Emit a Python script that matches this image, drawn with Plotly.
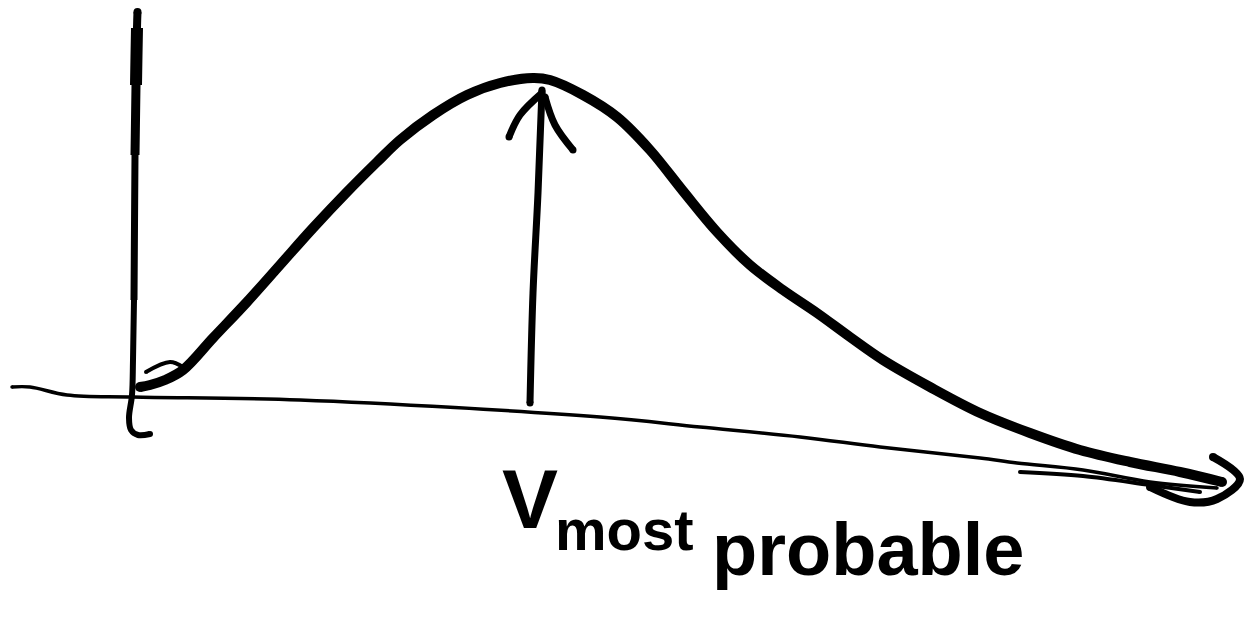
import plotly.graph_objects as go

# Sketch coordinates (x to the right, y downward, canvas units)
curve_x = [140, 150, 165, 183, 213, 247, 280, 313, 347, 377, 400, 433, 467, 500, 533, 550, 583, 617,
           650, 683, 717, 750, 783, 817, 850, 883, 930, 980, 1030, 1080, 1130, 1180, 1222]
curve_y = [387, 385, 380, 370, 338, 302, 265, 228, 192, 162, 140, 115, 95, 83, 78, 80, 95, 117,
           150, 191, 232, 265, 290, 313, 337, 360, 387, 413, 433, 450, 462, 472, 482]

# vertical axis, drawn in tapering pieces
yaxis_pieces_x = [[137.5, 137.2, 137], [137, 136.5, 136], [136, 135.5, 135], [135, 134.5, 134],
                  [134, 133, 132, 129, 131, 138, 150]]
yaxis_pieces_y = [[12, 20, 28], [28, 55, 85], [85, 120, 155], [155, 225, 300],
                  [300, 360, 395, 418, 430, 435, 434]]
yaxis_widths = [8, 12, 9, 7, 6]

xaxis_x = [12, 30, 67, 133, 300, 600, 700, 800, 880, 980, 1017, 1083, 1150, 1217]
xaxis_y = [387, 387, 395, 397, 400, 417, 427, 437, 447, 458, 463, 470, 482, 488]

xaxis2_x = [1020, 1083, 1150, 1200]
xaxis2_y = [472, 476, 485, 492]

head_x = [1213, 1240, 1217, 1190, 1150]
head_y = [457, 479, 499, 502, 487]

tick_x = [146, 170, 183]
tick_y = [372, 362, 367]

arrow_x = [530, 533, 538, 542]
arrow_y = [403, 293, 193, 90]
barb_l_x = [509, 520, 542]
barb_l_y = [137, 115, 93]
barb_r_x = [545, 555, 573]
barb_r_y = [97, 125, 150]

label_v = "V"
label_most = "most"
label_probable = "probable"

fig = go.Figure()


def stroke(xs, ys, w, shape="spline", caps=True):
    n = len(xs)
    sizes = [0] * n
    if caps:
        sizes[0] = w
        sizes[-1] = w
    fig.add_trace(go.Scatter(
        x=xs, y=ys, mode="lines+markers",
        line=dict(color="black", width=w, shape=shape, smoothing=1.0),
        marker=dict(color="black", size=sizes, opacity=1, line=dict(width=0, color="black")),
        hoverinfo="skip", showlegend=False,
    ))


stroke(xaxis_x, xaxis_y, 3.5)
stroke(xaxis2_x, xaxis2_y, 4)
for i, (px, py, w) in enumerate(zip(yaxis_pieces_x, yaxis_pieces_y, yaxis_widths)):
    stroke(px, py, w, caps=(i in (0, len(yaxis_widths) - 1)))
stroke(curve_x, curve_y, 10)
stroke(head_x, head_y, 8)
stroke(tick_x, tick_y, 4)
stroke(arrow_x, arrow_y, 7)
stroke(barb_l_x, barb_l_y, 7)
stroke(barb_r_x, barb_r_y, 7)

hand = dict(family="Liberation Sans, Arial, sans-serif", color="black", weight="bold")
fig.add_annotation(x=500, y=450, text=label_v, showarrow=False,
                   xanchor="left", yanchor="top",
                   font=dict(size=84, **hand))
fig.add_annotation(x=553, y=495, text=label_most, showarrow=False,
                   xanchor="left", yanchor="top",
                   font=dict(size=58, **hand))
fig.add_annotation(x=710, y=506, text=label_probable, showarrow=False,
                   xanchor="left", yanchor="top",
                   font=dict(size=74, **hand))

fig.update_layout(
    width=1245, height=627,
    margin=dict(l=0, r=0, t=0, b=0),
    paper_bgcolor="white", plot_bgcolor="white",
    xaxis=dict(range=[0, 1245], visible=False, fixedrange=True),
    yaxis=dict(range=[627, 0], visible=False, fixedrange=True),
)

fig.write_html("out.html")
